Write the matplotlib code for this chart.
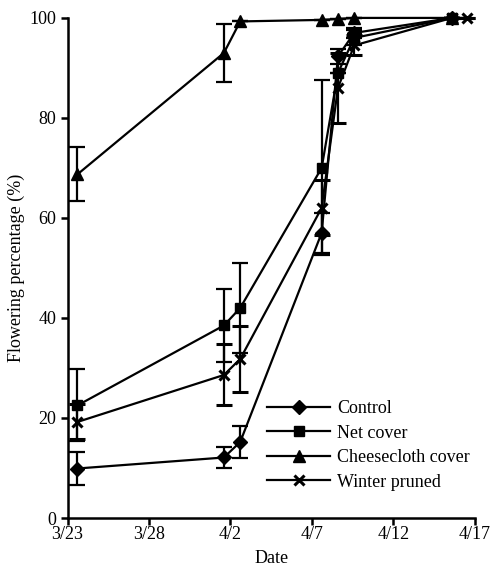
import matplotlib.pyplot as plt
from matplotlib.lines import Line2D

# days after 3/23
days = [0.6, 9.6, 10.6, 15.6, 16.6, 17.6, 23.6]
days_pruned = [0.6, 9.6, 10.6, 15.6, 16.6, 17.6, 23.6, 24.5]

control = [9.9, 12.1, 15.2, 57.0, 92.3, 97.0, 100]
control_err = [3.3, 2.0, 3.2, 4.0, 1.5, 1.0, 0]
net = [22.5, 38.5, 42.0, 70.0, 89.0, 96.0, 100]
net_err = [7.2, 7.3, 9.0, 17.5, 0, 1.5, 0]
cheese = [68.7, 93.0, 99.3, 99.6, 99.8, 100, 100]
cheese_err = [5.4, 5.8, 0, 0, 0, 0, 0]
pruned = [19.2, 28.6, 31.8, 62.0, 86.0, 94.5, 100, 100]
pruned_err = [3.5, 6.1, 6.6, 5.5, 7.0, 2.0, 0, 0]

tick_pos = [0, 5, 10, 15, 20, 25]
tick_labels = ["3/23", "3/28", "4/2", "4/7", "4/12", "4/17"]

plt.rcParams['font.family'] = ['Liberation Serif', 'DejaVu Serif']
plt.rcParams['font.size'] = 13

fig = plt.figure(figsize=(4.93, 5.67), dpi=100)
ax = fig.add_axes([0.137, 0.0864, 0.826, 0.882])

style = dict(color="black", lw=1.6, elinewidth=1.6, capsize=5.5, capthick=1.6, clip_on=False)
series = [
    (days, control, control_err, dict(marker="D", ms=7.5), "Control"),
    (days, net, net_err, dict(marker="s", ms=7), "Net cover"),
    (days, cheese, cheese_err, dict(marker="^", ms=8), "Cheesecloth cover"),
    (days_pruned, pruned, pruned_err, dict(marker="x", ms=7, mew=2.2), "Winter pruned"),
]
handles = []
for x, y, err, mk, name in series:
    ax.errorbar(x, y, yerr=err, **mk, **style)
    handles.append(Line2D([], [], color="black", lw=1.6, **mk, label=name))

ax.set_xlim(0, 25)
ax.set_ylim(0, 100)
ax.set_xticks(tick_pos)
ax.set_xticklabels(tick_labels)
ax.set_yticks([0, 20, 40, 60, 80, 100])
ax.spines["top"].set_visible(False)
ax.spines["right"].set_visible(False)
ax.spines["left"].set_linewidth(1.8)
ax.spines["bottom"].set_linewidth(1.8)
ax.tick_params(direction="out", length=5, width=1.8)
ax.tick_params(axis="x", pad=1)
ax.tick_params(axis="y", pad=3)
ax.set_xlabel("Date", labelpad=5)
ax.set_ylabel("Flowering percentage (%)", labelpad=3)

ax.legend(handles=handles, loc="upper left", bbox_to_anchor=(0.49, 0.236), frameon=False,
          handlelength=3.5, handletextpad=0.4, labelspacing=0.42, borderaxespad=0,
          borderpad=0)

fig.savefig("out.png", dpi=100)
